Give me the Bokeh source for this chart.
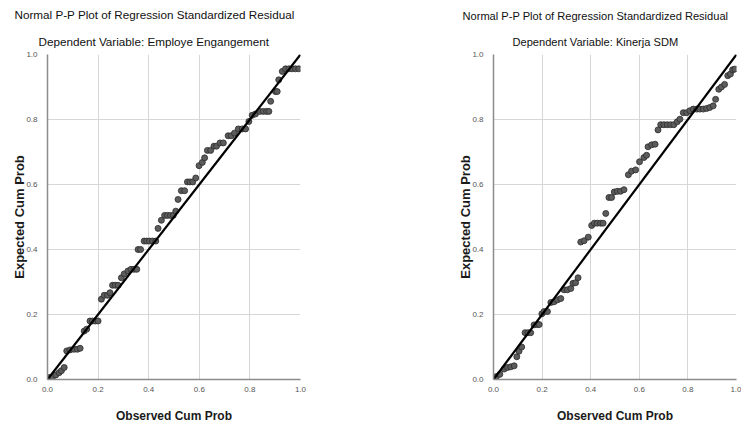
from bokeh.plotting import figure
from bokeh.layouts import row
from bokeh.models import Title, Range1d, FixedTicker, ColumnDataSource
from bokeh.embed import file_html
from bokeh.resources import INLINE

main_title = "Normal P-P Plot of Regression Standardized Residual"
sub_titles = ["Dependent Variable: Employe Engangement", "Dependent Variable: Kinerja SDM"]
x_label = "Observed Cum Prob"
y_label = "Expected Cum Prob"
tick_values = [0.0, 0.2, 0.4, 0.6, 0.8, 1.0]
tick_labels = ["0.0", "0.2", "0.4", "0.6", "0.8", "1.0"]
ref_line = [0.0, 1.0]

obs_ee = [0.007, 0.02, 0.033, 0.046, 0.055, 0.066, 0.076, 0.089, 0.105, 0.118,
          0.129, 0.145, 0.155, 0.168, 0.178, 0.189, 0.2, 0.213, 0.224, 0.237,
          0.247, 0.257, 0.268, 0.279, 0.292, 0.303, 0.318, 0.33, 0.342, 0.353,
          0.358, 0.368, 0.382, 0.392, 0.403, 0.415, 0.428, 0.437, 0.45, 0.463,
          0.474, 0.486, 0.497, 0.507, 0.516, 0.529, 0.542, 0.553, 0.563, 0.574,
          0.586, 0.599, 0.612, 0.621, 0.632, 0.645, 0.658, 0.668, 0.682, 0.695,
          0.714, 0.726, 0.739, 0.754, 0.77, 0.783, 0.796, 0.809, 0.822, 0.839,
          0.853, 0.866, 0.875, 0.882, 0.901, 0.908, 0.914, 0.928, 0.941, 0.954,
          0.967, 0.98, 0.993]
exp_ee = [0.006, 0.008, 0.014, 0.021, 0.027, 0.037, 0.088, 0.091, 0.093, 0.093,
          0.096, 0.149, 0.155, 0.18, 0.18, 0.18, 0.18, 0.247, 0.259, 0.259,
          0.267, 0.29, 0.29, 0.29, 0.313, 0.325, 0.334, 0.339, 0.339, 0.339,
          0.4, 0.4, 0.426, 0.426, 0.426, 0.426, 0.426, 0.465, 0.49, 0.505,
          0.505, 0.505, 0.505, 0.518, 0.554, 0.581, 0.581, 0.608, 0.608, 0.608,
          0.62, 0.658, 0.668, 0.682, 0.705, 0.705, 0.718, 0.718, 0.728, 0.728,
          0.75, 0.75, 0.758, 0.771, 0.771, 0.771, 0.794, 0.813, 0.817, 0.825,
          0.825, 0.825, 0.825, 0.856, 0.886, 0.886, 0.922, 0.948, 0.956, 0.956,
          0.956, 0.956, 0.956]

obs_ks = [0.003, 0.012, 0.026, 0.044, 0.058, 0.071, 0.085, 0.096, 0.105, 0.116,
          0.13, 0.142, 0.153, 0.167, 0.181, 0.188, 0.199, 0.208, 0.222, 0.236,
          0.249, 0.263, 0.277, 0.29, 0.304, 0.318, 0.327, 0.338, 0.348, 0.359,
          0.373, 0.39, 0.404, 0.415, 0.427, 0.441, 0.451, 0.462, 0.475, 0.486,
          0.497, 0.51, 0.523, 0.537, 0.555, 0.568, 0.585, 0.601, 0.619, 0.63,
          0.636, 0.651, 0.665, 0.677, 0.688, 0.701, 0.715, 0.729, 0.742, 0.756,
          0.767, 0.781, 0.795, 0.808, 0.822, 0.836, 0.849, 0.863, 0.877, 0.89,
          0.904, 0.914, 0.927, 0.938, 0.951, 0.964, 0.975, 0.984, 0.993]
exp_ks = [0.004, 0.009, 0.016, 0.032, 0.037, 0.039, 0.042, 0.07, 0.087, 0.1,
          0.144, 0.144, 0.144, 0.168, 0.169, 0.169, 0.202, 0.209, 0.209, 0.237,
          0.239, 0.245, 0.249, 0.276, 0.276, 0.28, 0.296, 0.298, 0.313, 0.423,
          0.427, 0.438, 0.474, 0.481, 0.481, 0.481, 0.481, 0.511, 0.56, 0.56,
          0.577, 0.579, 0.579, 0.584, 0.63, 0.641, 0.645, 0.67, 0.683, 0.69,
          0.716, 0.722, 0.724, 0.768, 0.784, 0.784, 0.784, 0.784, 0.784, 0.793,
          0.801, 0.821, 0.821, 0.827, 0.832, 0.832, 0.832, 0.832, 0.834, 0.837,
          0.842, 0.862, 0.893, 0.9, 0.908, 0.935, 0.94, 0.953, 0.955]

FONT = "Liberation Sans"


def make_plot(obs, exp, subtitle, width, border_left, border_right, border_bottom,
              main_offset, sub_offset, title_size):
    p = figure(width=width, height=428,
               min_border_left=border_left, min_border_right=border_right,
               min_border_top=53, min_border_bottom=border_bottom,
               x_range=Range1d(0, 1), y_range=Range1d(0, 1),
               output_backend="svg", toolbar_location=None, tools="")
    p.outline_line_color = None
    p.background_fill_color = "white"
    p.border_fill_color = "white"
    for ax in (p.xaxis[0], p.yaxis[0]):
        ax.ticker = FixedTicker(ticks=tick_values)
        ax.major_label_overrides = {v: s for v, s in zip(tick_values, tick_labels)}
        ax.axis_line_color = "#8c8c8c"
        ax.axis_line_width = 1.5
        ax.major_tick_line_color = None
        ax.minor_tick_line_color = None
        ax.major_label_text_font = FONT
        ax.major_label_text_font_size = "8px"
        ax.major_label_text_color = "#555555"
        ax.axis_label_text_font = FONT
        ax.axis_label_text_font_style = "bold"
        ax.axis_label_text_color = "#1a1a1a"
    p.xaxis.axis_label = x_label
    p.yaxis.axis_label = y_label
    p.xaxis.axis_label_text_font_size = "12px"
    p.yaxis.axis_label_text_font_size = "13px"
    p.xaxis.major_label_standoff = 1
    p.xaxis.axis_label_standoff = 14
    p.yaxis.major_label_standoff = 4
    p.yaxis.axis_label_standoff = -4
    for g in (p.xgrid[0], p.ygrid[0]):
        g.ticker = FixedTicker(ticks=tick_values)
        g.grid_line_color = "#d6d6d6"
        g.grid_line_width = 1

    src = ColumnDataSource(dict(x=obs, y=exp))
    p.scatter("x", "y", source=src, size=6, fill_color="#5c5c5c",
              line_color="#2b2b2b", line_width=0.8)
    p.line(ref_line, ref_line, line_color="black", line_width=2.2)

    p.add_layout(Title(text=subtitle, align="left", offset=sub_offset,
                       standoff=14, text_font=FONT, text_font_size=title_size,
                       text_font_style="normal", text_color="#111111"), "above")
    p.add_layout(Title(text=main_title, align="left", offset=main_offset,
                       standoff=10, text_font=FONT, text_font_size=title_size,
                       text_font_style="normal", text_color="#111111"), "above")
    return p


p1 = make_plot(obs_ee, exp_ee, sub_titles[0], 445, 47, 145, 49, -33, -9, "11.7px")
p2 = make_plot(obs_ks, exp_ks, sub_titles[1], 296, 48, 5, 46, -31, 19, "11.1px")

layout = row(p1, p2)
open("out.html", "w").write(file_html(layout, INLINE))
